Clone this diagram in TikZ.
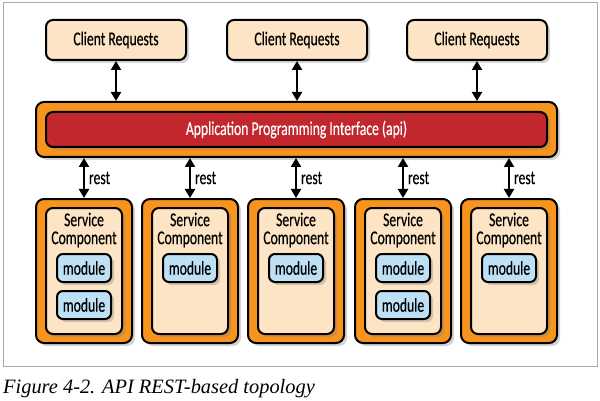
\documentclass[tikz,border=0pt]{standalone}
\usepackage{fontspec}
\setmainfont{Liberation Serif}
\newfontfamily\condfont[FakeStretch=0.7,FakeBold=0.4]{Carlito}
\usetikzlibrary{arrows.meta,shadows}
\definecolor{peach}{RGB}{253,228,196}
\definecolor{apiorange}{RGB}{247,148,30}
\definecolor{apired}{RGB}{193,39,45}
\definecolor{modblue}{RGB}{190,224,245}
\definecolor{framegray}{RGB}{170,170,170}
\tikzset{
  box/.style={draw=black, line width=2pt, rounded corners=7pt, inner sep=0pt,
    font=\condfont\fontsize{19.5}{18}\selectfont,
    drop shadow={shadow xshift=3pt, shadow yshift=-3pt, opacity=0.35}},
  client/.style={box, fill=peach, minimum width=140pt, minimum height=40pt},
  apiouter/.style={box, fill=apiorange, rounded corners=8pt, minimum width=521pt, minimum height=55pt},
  apiinner/.style={box, fill=apired, text=white, minimum width=501pt, minimum height=35pt},
  svcouter/.style={box, fill=apiorange, rounded corners=8pt, minimum width=96pt, minimum height=144pt},
  svcinner/.style={box, fill=peach, minimum width=76pt, minimum height=126pt},
  module/.style={box, fill=modblue, rounded corners=6pt, minimum width=54pt, minimum height=28pt},
  label/.style={inner sep=0pt, font=\condfont\fontsize{19.5}{18}\selectfont},
  link/.style={line width=2pt, {Triangle[width=10pt,length=9pt]}-{Triangle[width=10pt,length=9pt]}},
}
\begin{document}
\begin{tikzpicture}[x=1pt, y=-1pt]
\useasboundingbox (0,0) rectangle (600,401);
% Frame round the figure
\node[draw=framegray, line width=1pt, minimum width=594pt, minimum height=363pt, inner sep=0pt] (frame) at (300,184.5) {};
% Define the client requests
\foreach \i/\x in {1/116,2/297,3/477}
    \node[client] (c\i) at (\x,40) {Client Requests};
% Define the api layer
\node[apiouter] (api) at (296.5,129.5) {};
\node[apiinner] (apibar) at (296.5,129.5) {Application Programming Interface (api)};
% Define the service components
\foreach \i/\x in {1/84,2/190,3/296,4/403,5/509} {
    \node[svcouter] (s\i) at (\x,271) {};
    \node[svcinner] (si\i) at (\x,271) {};
    \node[label, align=center] (st\i) at (\x,230) {Service\\Component};
    \node[module] (m\i a) at (\x,268) {module};
}
\foreach \i/\x in {1/84,4/403}
    \node[module] (m\i b) at (\x,305) {module};
% Add the links
\foreach \i in {1,2,3}
    \draw[link] (c\i.south) -- (c\i.south |- api.north);
\foreach \i in {1,...,5}
    \draw[link] (api.south -| s\i.north) -- (s\i.north)
        node[label, midway, right=4pt] {rest};
% Caption
\node[anchor=base west, inner sep=0pt, font=\itshape\fontsize{20.4}{24}\selectfont] (caption) at (3,393) {Figure 4-2. API REST-based topology};
\end{tikzpicture}
\end{document}
